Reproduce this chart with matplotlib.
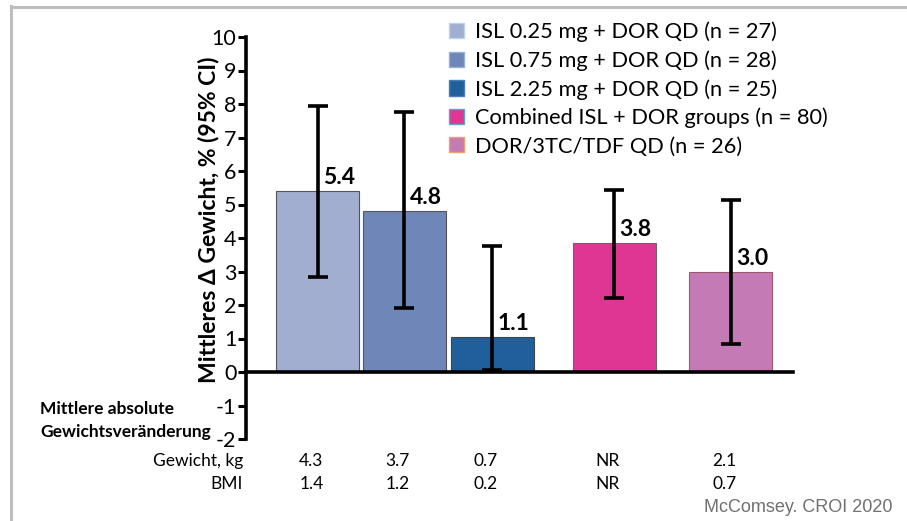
import matplotlib
matplotlib.use("Agg")
import matplotlib.pyplot as plt
from matplotlib.patches import Patch, Rectangle
from matplotlib.lines import Line2D
from matplotlib.transforms import blended_transform_factory

plt.rcParams['font.family'] = ['Lato', 'DejaVu Sans']

# ---- data ----
groups = ["ISL 0.25 mg + DOR QD (n = 27)",
          "ISL 0.75 mg + DOR QD (n = 28)",
          "ISL 2.25 mg + DOR QD (n = 25)",
          "Combined ISL + DOR groups (n = 80)",
          "DOR/3TC/TDF QD (n = 26)"]
mean_change = [5.4, 4.8, 1.05, 3.85, 3.0]
value_labels = ["5.4", "4.8", "1.1", "3.8", "3.0"]
ci_low = [2.85, 1.9, 0.05, 2.2, 0.83]
ci_high = [7.95, 7.76, 3.76, 5.43, 5.12]
weight_kg = ["4.3", "3.7", "0.7", "NR", "2.1"]
bmi = ["1.4", "1.2", "0.2", "NR", "0.7"]
yticks = list(range(-2, 11))

# ---- style ----
positions = [0.867, 1.904, 2.964, 4.434, 5.843]
colors = ["#A2AECF", "#6E86B8", "#215F9B", "#E03693", "#C47BB5"]
edges = ["#555555", "#555555", "#444444", "#666666", "#9A5A6A"]
leg_edges = ["#B8D4EA", "#8FB3D9", "#4A7FB5", "#56A8C8", "#F0A070"]

fig = plt.figure(figsize=(9.07, 5.21), dpi=100)
ax = fig.add_axes([246/907, 1-439/521, (793-246)/907, (439-37)/521])

ax.bar(positions, mean_change, width=1.0, color=colors, edgecolor=edges,
       linewidth=0.8, zorder=2)
lower = [m - l for m, l in zip(mean_change, ci_low)]
upper = [h - m for m, h in zip(mean_change, ci_high)]
ax.errorbar(positions, mean_change, yerr=[lower, upper], fmt='none',
            ecolor='black', elinewidth=2.6, capsize=7, capthick=2.6, zorder=3)

for x, m, lab in zip(positions, mean_change, value_labels):
    ax.annotate(lab, (x, m), xytext=(4, 2), textcoords='offset points',
                ha='left', va='bottom', fontsize=16.5, fontweight='bold')

ax.set_xlim(0, (793-246)/83)
ax.set_ylim(-2, 10)
ax.set_yticks(yticks)
ax.set_yticklabels([str(t) for t in yticks], fontsize=15.5)
ax.tick_params(axis='y', direction='out', length=6, width=2.2, pad=1)
ax.set_xticks([])
for s in ['top', 'right']:
    ax.spines[s].set_visible(False)
ax.spines['left'].set_linewidth(2.6)
ax.spines['bottom'].set_linewidth(2.6)
ax.spines['bottom'].set_position(('data', 0))
ax.spines['left'].set_bounds(-2, 10)

ax.set_ylabel("Mittleres Δ Gewicht, % (95% CI)", fontsize=16.5,
              fontweight='bold')
ax.yaxis.set_label_coords(-0.049, 0.545)

# legend
handles = [Patch(facecolor=c, edgecolor=e, linewidth=1.0)
           for c, e in zip(colors, leg_edges)]
leg = fig.legend(handles, groups, loc='upper left',
                 bbox_to_anchor=(440/907, 1-13/521), frameon=False,
                 fontsize=15.7, handlelength=0.7, handleheight=0.7,
                 handletextpad=0.5, labelspacing=0.37, borderaxespad=0)

# table rows under chart
tr = blended_transform_factory(ax.transData, fig.transFigure)
for x, w, b in zip(positions, weight_kg, bmi):
    ax.text(x - 0.08, 1-461/521, w, transform=tr, ha='center', va='center',
            fontsize=12.5)
    ax.text(x - 0.08, 1-484/521, b, transform=tr, ha='center', va='center',
            fontsize=12.5)
fig.text(243/907, 1-461/521, "Gewicht, kg", ha='right', va='center', fontsize=12.5)
fig.text(243/907, 1-484/521, "BMI", ha='right', va='center', fontsize=12.5)

fig.text(40/907, 1-409/521, "Mittlere absolute", ha='left', va='center',
         fontsize=12.5, fontweight='bold')
fig.text(40/907, 1-432/521, "Gewichtsveränderung", ha='left', va='center',
         fontsize=12.5, fontweight='bold')

fig.text(893/907, 1-507/521, "McComsey. CROI 2020", ha='right', va='center',
         fontsize=13, color='#707070', family=['Liberation Sans', 'DejaVu Sans'])

# grey frame lines (top and left)
fig.add_artist(Line2D([11/907, 11/907], [0, 1-6/521], transform=fig.transFigure,
                      color='#BDBDBD', linewidth=2.2))
fig.add_artist(Line2D([11/907, 1], [1-6.5/521, 1-6.5/521], transform=fig.transFigure,
                      color='#BDBDBD', linewidth=2.2))

fig.savefig("out.png", dpi=100)
